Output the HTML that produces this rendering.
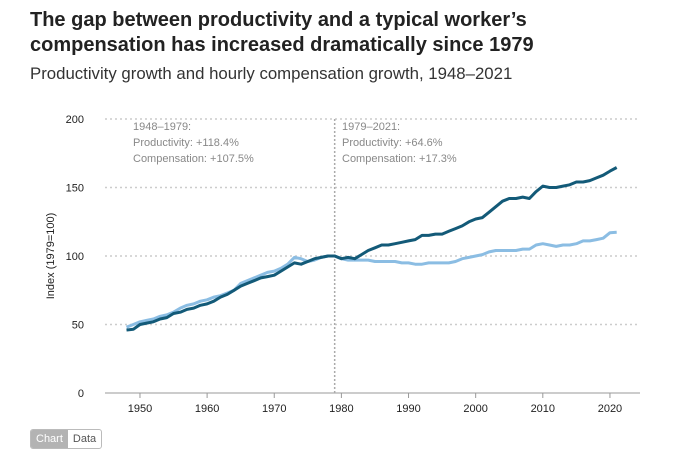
<!DOCTYPE html>
<html><head><meta charset="utf-8"><style>
body{margin:0;width:677px;height:463px;background:#fff;font-family:"Liberation Sans",sans-serif;overflow:hidden;position:relative}
h1{position:absolute;left:30px;top:8px;margin:0;font-size:20px;line-height:25px;font-weight:bold;color:#222;width:540px}
.sub{position:absolute;left:30px;top:64px;font-size:16.8px;color:#333}
.btns{position:absolute;left:30px;top:429px;display:flex;font-size:11px;border:1px solid #bbb;border-radius:3px;overflow:hidden}
.btns div{padding:3px 5px}
</style></head><body>
<h1>The gap between productivity and a typical worker’s compensation has increased dramatically since 1979</h1>
<div class="sub">Productivity growth and hourly compensation growth, 1948–2021</div>
<svg id="c" width="677" height="463" style="position:absolute;left:0;top:0"></svg>
<div class="btns">
<div style="background:#b3b3b3;color:#fff">Chart</div>
<div style="color:#555">Data</div></div>
<script>
const startYear=1948;
const productivity=[46,46.5,50,51,52,54,55,58,59,61,62,64,65,67,70,72,75,78,80,82,84,85,86,89,92,95,94,96,98,99,100,100,98,99,98,101,104,106,108,108,109,110,111,112,115,115,116,116,118,120,122,125,127,128,132,136,140,142,142,143,142,147,151,150,150,151,152,154,154,155,157,159,162,164.6];
const compensation=[48,50,52,53,54,56,57,59,62,64,65,67,68,70,71,73,75,80,82,84,86,88,89,91,94,99,98,96,97,99,100,100,98,97,97,97,97,96,96,96,96,95,95,94,94,95,95,95,95,96,98,99,100,101,103,104,104,104,104,105,105,108,109,108,107,108,108,109,111,111,112,113,117,117.3];
const yTicks=[0,50,100,150,200];
const xTicks=[1950,1960,1970,1980,1990,2000,2010,2020];
const X=y=>106.4+(y-1945)*6.714, Y=v=>393-v*1.37;
const s=document.getElementById('c'),NS='http://www.w3.org/2000/svg';
function mk(t,a,txt){const e=document.createElementNS(NS,t);for(const k in a)e.setAttribute(k,a[k]);if(txt!=null)e.textContent=txt;s.appendChild(e);return e;}
yTicks.forEach(v=>{
 const g=mk('line',{x1:105,x2:640,y1:Y(v),y2:Y(v),stroke:v?'#ccc':'#999','stroke-width':v?1.5:1,'stroke-dasharray':v?'2,3':''});
 
 
 const t=mk('text',{x:84,y:Y(v)+4,'text-anchor':'end','font-size':11,fill:'#222'},v);
 
 
});
xTicks.forEach(y=>{
 const l=mk('line',{x1:X(y),x2:X(y),y1:393,y2:398,stroke:'#999'});
 
 
 const t=mk('text',{x:X(y),y:412,'text-anchor':'middle','font-size':11,fill:'#222'},y);
 
 
});
const yt=mk('text',{x:0,y:0,transform:'translate(54,256) rotate(-90)','text-anchor':'middle','font-size':11,fill:'#222'},'Index (1979=100)');


const vl=mk('line',{x1:X(1979),x2:X(1979),y1:119,y2:393,stroke:'#aaa','stroke-width':1.5,'stroke-dasharray':'2,2'});


[[133,['1948–1979:','Productivity: +118.4%','Compensation: +107.5%'],'annotation-1948-1979'],[342,['1979–2021:','Productivity: +64.6%','Compensation: +17.3%'],'annotation-1979-2021']].forEach(([x,ls,n])=>{
 ls.forEach((l,i)=>{const t=mk('text',{x:x,y:130+i*16,'font-size':11,fill:'#888'},l);
 
 });
});
function line(arr,col,name){
 const d=arr.map((v,i)=>(i?'L':'M')+X(startYear+i).toFixed(1)+','+Y(v).toFixed(1)).join('');
 const p=mk('path',{d:d,fill:'none',stroke:col,'stroke-width':3,'stroke-linejoin':'round'});
 
 
}
line(compensation,'#8bbde3','compensation-line');
line(productivity,'#135a78','productivity-line');
</script>
</body></html>
